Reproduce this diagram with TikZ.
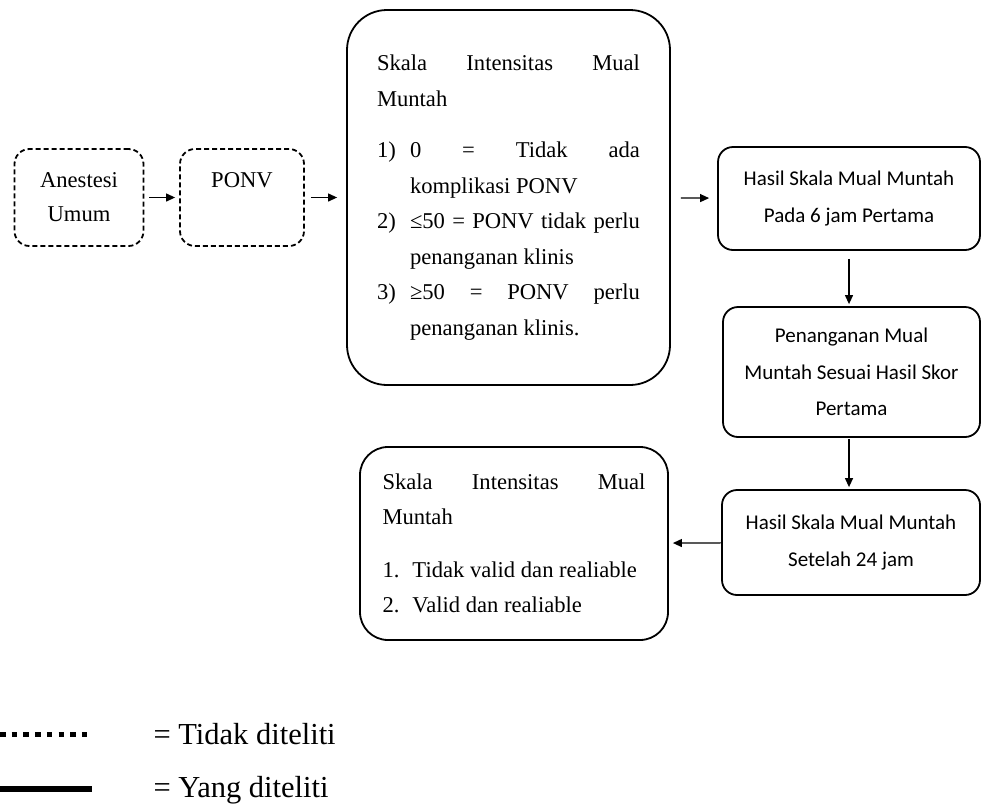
\documentclass[tikz,border=0pt]{standalone}
\usepackage{fontspec}
\setmainfont{Liberation Serif}
\newfontfamily\calibfont{Carlito}
\usetikzlibrary{arrows.meta}
\newcommand{\hitem}[3]{\par\noindent\hangindent=#1\hangafter=1\makebox[#1][l]{#2}#3}

\begin{document}
\begin{tikzpicture}[x=1pt, y={(0pt,-1pt)},
  dashbox/.style={draw, rounded corners=15pt, line width=1.8pt, dash pattern=on 5pt off 3pt,
    minimum height=97pt, align=center, font=\fontsize{22.6pt}{34pt}\selectfont},
  serifbox/.style={draw, line width=1.8pt, align=justify, text width=263pt,
    font=\fontsize{22.6pt}{35.5pt}\selectfont},
  calibbox/.style={draw, rounded corners=15pt, line width=1.8pt, align=center,
    font=\calibfont\fontsize{21pt}{36.5pt}\selectfont},
  arr/.style={-{Triangle[length=9pt,width=8pt]}, line width=1.2pt}]
\useasboundingbox (0,0) rectangle (981,809);
\node[dashbox, minimum width=129pt] (anestesi) at (79,197.5) {Anestesi\\Umum};
\node[dashbox, minimum width=124pt] (ponv) at (242,197.5) {PONV\\\phantom{Umum}};
\node[serifbox, rounded corners=40pt, minimum width=323pt, minimum height=375pt] (skala) at (508.5,197.5)
  {\noindent Skala Intensitas Mual\linebreak Muntah\par\vspace{16pt}
   \hitem{33pt}{1)}{0 = Tidak ada\linebreak komplikasi PONV}
   \hitem{33pt}{2)}{≤50 = PONV tidak perlu\linebreak penanganan klinis}
   \hitem{33pt}{3)}{≥50 = PONV perlu\linebreak penanganan klinis.}\par};
\node[calibbox, minimum width=262pt, minimum height=103pt] (hasil6) at (849,198.5)
  {Hasil Skala Mual Muntah\\Pada 6 jam Pertama};
\node[calibbox, minimum width=257pt, minimum height=130pt] (penanganan) at (851.5,372)
  {Penanganan Mual\\Muntah Sesuai Hasil Skor\\Pertama};
\node[calibbox, minimum width=258pt, minimum height=105pt] (hasil24) at (851,542.5)
  {Hasil Skala Mual Muntah\\Setelah 24 jam};
\node[serifbox, rounded corners=28pt, minimum width=308pt, minimum height=193pt] (validitas) at (514,543.5)
  {\noindent Skala Intensitas Mual\linebreak Muntah\par\vspace{17pt}
   \hitem{30pt}{1.}{Tidak valid dan realiable}
   \hitem{30pt}{2.}{Valid dan realiable}\par};
\draw[arr, shorten <=5pt, shorten >=4pt] (anestesi) -- (ponv);
\draw[arr, shorten <=6pt, shorten >=9pt] (ponv) -- (skala);
\draw[arr, shorten <=10pt, shorten >=8pt] (skala) -- (hasil6);
\draw[arr, shorten <=8pt, shorten >=2pt] (hasil6.south) -- (hasil6.south |- penanganan.north);
\draw[arr, shorten <=1pt, shorten >=2pt] (hasil6.south |- penanganan.south) -- (hasil6.south |- hasil24.north);
\draw[arr, shorten >=4pt] (hasil24) -- (validitas);
\draw[line width=5pt, dash pattern=on 5.5pt off 6.2pt] (0,734) -- (92,734);
\draw[line width=6pt] (0,789) -- (92,789);
\node[anchor=base west, font=\fontsize{30.5pt}{36pt}\selectfont] (tidak) at (150,744) {= Tidak diteliti};
\node[anchor=base west, font=\fontsize{30.5pt}{36pt}\selectfont] (yang) at (150,797) {= Yang diteliti};
\end{tikzpicture}
\end{document}
